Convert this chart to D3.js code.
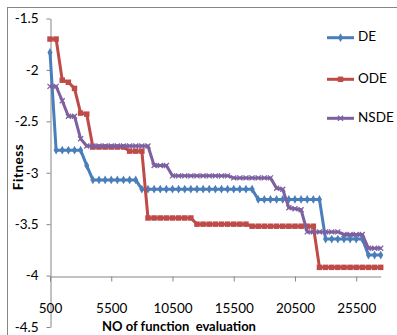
<!DOCTYPE html>
<html>
<head>
<meta charset="utf-8">
<script src="https://cdn.jsdelivr.net/npm/d3@7"></script>
<style>
  body { margin: 0; background: #fff; }
  svg { display: block; font-family: Lato, "Open Sans", sans-serif; }
</style>
</head>
<body>
<div id="chart"></div>
<script>
var width = 397,
height = 335;

// function evaluations (category axis, step 500)
var evals = [500, 1000, 1500, 2000, 2500, 3000, 3500, 4000, 4500, 5000,
  5500, 6000, 6500, 7000, 7500, 8000, 8500, 9000, 9500, 10000,
  10500, 11000, 11500, 12000, 12500, 13000, 13500, 14000, 14500, 15000,
  15500, 16000, 16500, 17000, 17500, 18000, 18500, 19000, 19500, 20000,
  20500, 21000, 21500, 22000, 22500, 23000, 23500, 24000, 24500, 25000,
  25500, 26000, 26500, 27000, 27500];

var de = [-1.83, -2.78, -2.78, -2.78, -2.78, -2.78, -2.93, -3.07, -3.07, -3.07,
  -3.07, -3.07, -3.07, -3.07, -3.07, -3.16, -3.16, -3.16, -3.16, -3.16,
  -3.16, -3.16, -3.16, -3.16, -3.16, -3.16, -3.16, -3.16, -3.16, -3.16,
  -3.16, -3.16, -3.16, -3.16, -3.26, -3.26, -3.26, -3.26, -3.26, -3.26,
  -3.26, -3.26, -3.26, -3.26, -3.26, -3.645, -3.645, -3.645, -3.645, -3.645,
  -3.645, -3.645, -3.80, -3.80, -3.80];

var ode = [-1.70, -1.70, -2.10, -2.12, -2.18, -2.42, -2.43, -2.75, -2.75, -2.75,
  -2.75, -2.75, -2.75, -2.79, -2.79, -2.79, -3.44, -3.44, -3.44, -3.44,
  -3.44, -3.44, -3.44, -3.44, -3.50, -3.50, -3.50, -3.50, -3.50, -3.50,
  -3.50, -3.50, -3.50, -3.52, -3.52, -3.52, -3.52, -3.52, -3.52, -3.52,
  -3.52, -3.52, -3.52, -3.52, -3.92, -3.92, -3.92, -3.92, -3.92, -3.92,
  -3.92, -3.92, -3.92, -3.92, -3.92];

var nsde = [-2.16, -2.16, -2.30, -2.45, -2.45, -2.67, -2.74, -2.74, -2.74, -2.74,
  -2.74, -2.74, -2.74, -2.74, -2.74, -2.74, -2.74, -2.93, -2.93, -2.93,
  -3.03, -3.03, -3.03, -3.03, -3.03, -3.03, -3.03, -3.03, -3.03, -3.03,
  -3.05, -3.05, -3.05, -3.05, -3.05, -3.05, -3.05, -3.15, -3.16, -3.34,
  -3.35, -3.36, -3.575, -3.575, -3.575, -3.575, -3.575, -3.575, -3.60, -3.60,
  -3.60, -3.60, -3.735, -3.735, -3.735];

var seriesNames = ["DE", "ODE", "NSDE"];
var xTicks = [500, 5500, 10500, 15500, 20500, 25500];
var yTicks = [-1.5, -2, -2.5, -3, -3.5, -4, -4.5];

var colors = ["#4A7EBB", "#BE4B48", "#7D60A0"];
var markers = ["diamond", "square", "cross"];
var allSeries = [de, ode, nsde];

var x = d3.scaleLinear().domain([500, 27500]).range([50, 380.7]);
var y = d3.scaleLinear().domain([-4.5, -1.5]).range([327, 18.5]);

var svg = d3.select("#chart").append("svg")
  .attr("width", width)
  .attr("height", height);

// chart border (only top/left show in the frame)
svg.append("rect")
  .attr("x", 7.5).attr("y", 7.5)
  .attr("width", 420).attr("height", 400)
  .attr("fill", "none")
  .attr("stroke", "#868686")
  .attr("stroke-width", 1);

var axisColor = "#868686";

var yAxis = svg.append("g")
  .attr("transform", "translate(50.5,0)")
  .call(d3.axisLeft(y).tickValues(yTicks).tickSize(4).tickSizeOuter(0).tickPadding(8)
    .tickFormat(function(d) { return d; }));

var xAxis = svg.append("g")
  .attr("transform", "translate(0," + (Math.round(y(-4)) + 0.5) + ")")
  .call(d3.axisBottom(x).tickValues(xTicks).tickSize(5).tickSizeOuter(0).tickPadding(22)
    .tickFormat(function(d) { return d; }));

[yAxis, xAxis].forEach(function(a) {
  a.select(".domain").attr("stroke", axisColor);
  a.selectAll(".tick line").attr("stroke", axisColor);
  a.selectAll(".tick text")
    .attr("fill", "#000")
    .style("font-size", "13.5px")
    .style("font-family", "Lato, sans-serif");
});

// axis titles
svg.append("text")
  .attr("transform", "translate(20,167) rotate(-90)")
  .attr("text-anchor", "middle")
  .attr("dominant-baseline", "middle")
  .style("font-size", "13.5px")
  .style("font-weight", "bold")
  .style("letter-spacing", "0.5px")
  .text("Fitness");

svg.append("text")
  .attr("x", 179)
  .attr("y", 331)
  .attr("text-anchor", "middle")
  .style("font-size", "13px")
  .style("font-weight", "bold")
  .style("white-space", "pre")
  .text("NO of function  evaluation");

var line = d3.line()
  .x(function(d, i) { return x(evals[i]); })
  .y(function(d) { return y(d); });

var drawMarker = function(g, kind, color, cx, cy) {
  if (kind == "cross") {
    g.append("path")
      .attr("d", "M" + (cx - 2.5) + "," + (cy - 2.5) + "L" + (cx + 2.5) + "," + (cy + 2.5) +
        "M" + (cx - 2.5) + "," + (cy + 2.5) + "L" + (cx + 2.5) + "," + (cy - 2.5))
      .attr("stroke", color)
      .attr("stroke-width", 1.3)
      .attr("fill", "none");
  } else {
    var sym = kind == "diamond" ? d3.symbolDiamond : d3.symbolSquare;
    var size = kind == "diamond" ? 22 : 30;
    g.append("path")
      .attr("d", d3.symbol().type(sym).size(size)())
      .attr("transform", "translate(" + cx + "," + cy + ")")
      .attr("fill", color);
  }
};

allSeries.forEach(function(data, s) {
  var g = svg.append("g").attr("class", "series");
  g.append("path")
    .datum(data)
    .attr("fill", "none")
    .attr("stroke", colors[s])
    .attr("stroke-width", 3)
    .attr("stroke-linejoin", "round")
    .attr("d", line);
  data.forEach(function(d, i) {
    drawMarker(g, markers[s], colors[s], x(evals[i]), y(d));
  });
});

// legend
var legendY = [37.7, 79.3, 118.3];
seriesNames.forEach(function(name, s) {
  var g = svg.append("g");
  g.append("line")
    .attr("x1", 327).attr("x2", 354)
    .attr("y1", legendY[s]).attr("y2", legendY[s])
    .attr("stroke", colors[s])
    .attr("stroke-width", 3);
  drawMarker(g, markers[s], colors[s], 340.5, legendY[s]);
  g.append("text")
    .attr("x", 358)
    .attr("y", legendY[s])
    .attr("dominant-baseline", "middle")
    .style("font-size", "13.5px")
    .text(name);
});
</script>
</body>
</html>
